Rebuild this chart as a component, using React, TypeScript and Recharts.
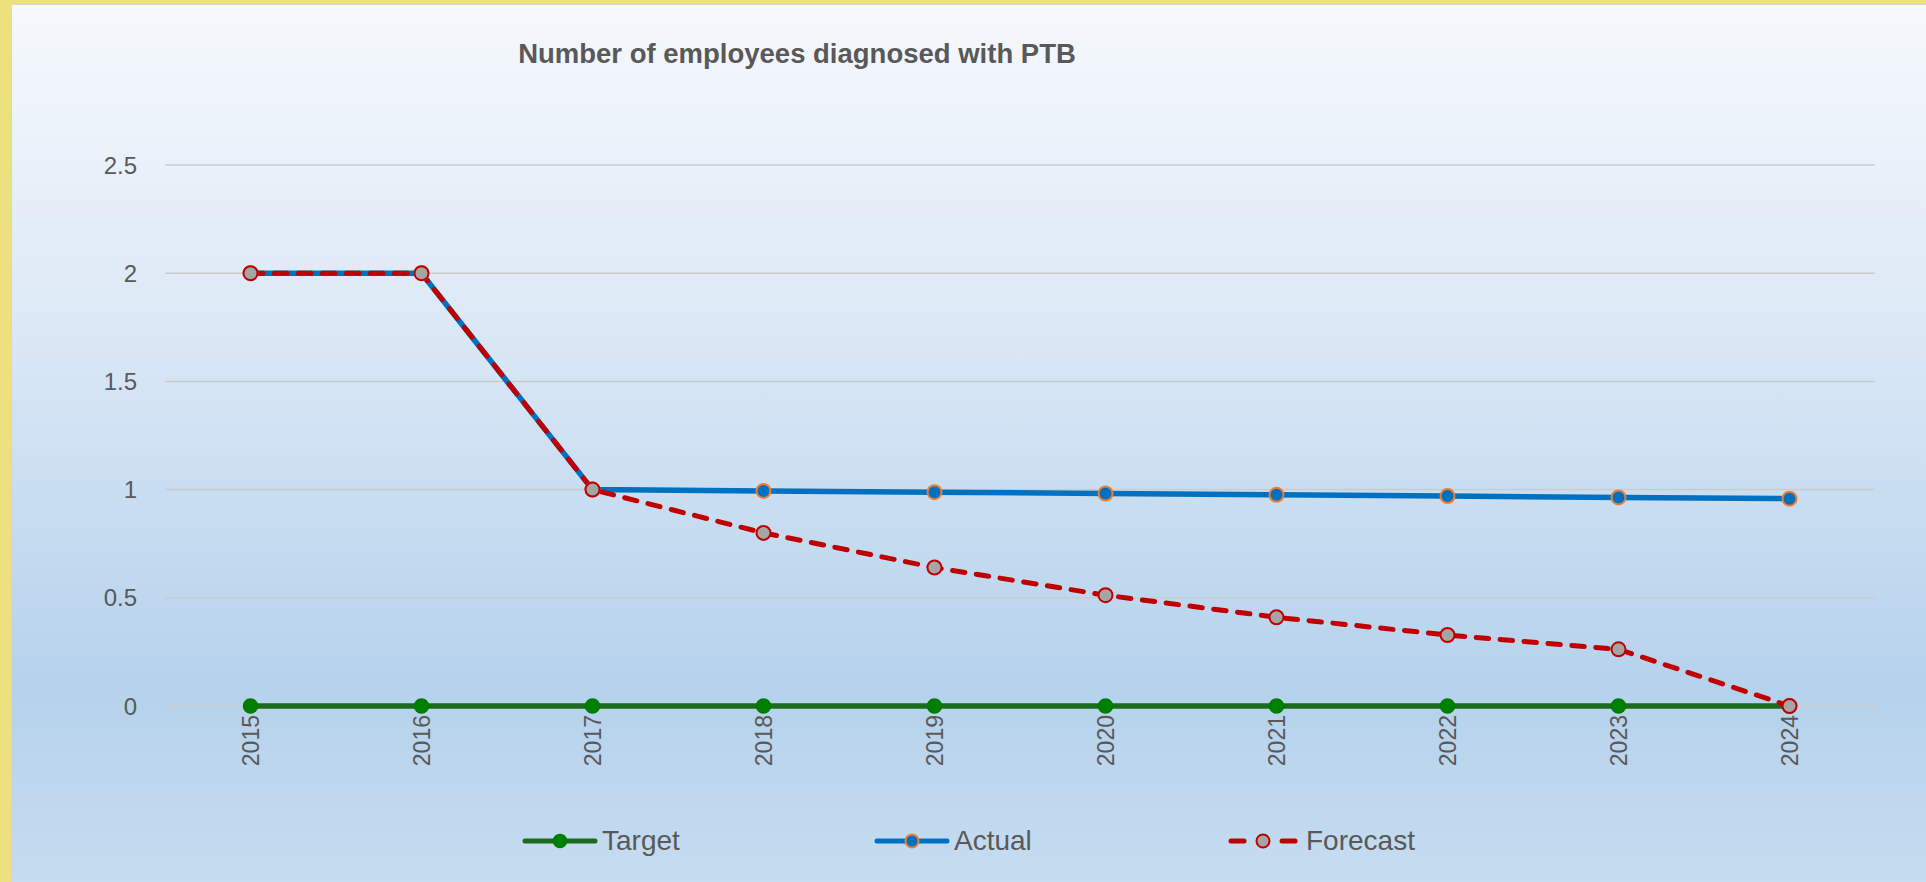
import { LineChart, Line, XAxis, YAxis, CartesianGrid } from "recharts";

const years = ["2015", "2016", "2017", "2018", "2019", "2020", "2021", "2022", "2023", "2024"];
const target = [0, 0, 0, 0, 0, 0, 0, 0, 0, 0];
const actual = [2, 2, 1, 0.994, 0.988, 0.982, 0.976, 0.97, 0.964, 0.958];
const forecast = [2, 2, 1, 0.8, 0.64, 0.512, 0.41, 0.328, 0.262, 0];
const yTicks = [0, 0.5, 1, 1.5, 2, 2.5];
const seriesNames = ["Target", "Actual", "Forecast"];

const data = years.map((y, i) => ({
  year: y,
  target: target[i],
  actual: actual[i],
  forecast: forecast[i],
}));

const FONT = "'Liberation Sans', Arial, sans-serif";
const GREY = "#595959";

function YearTick(props: any) {
  const { x, y, payload } = props;
  return (
    <text
      x={x}
      y={y}
      dy="0.35em"
      transform={`rotate(-90, ${x}, ${y})`}
      textAnchor="end"
      fill={GREY}
      fontSize={23}
      fontFamily={FONT}
    >
      {payload.value}
    </text>
  );
}

function LegendIcon({ kind }: { kind: number }) {
  if (kind === 0) {
    return (
      <svg width={76} height={24}>
        <line x1={3} y1={12} x2={73} y2={12} stroke="#1b6b1d" strokeWidth={5} strokeLinecap="round" />
        <circle cx={38} cy={12} r={6.5} fill="#008000" stroke="#007a00" strokeWidth={1.5} />
      </svg>
    );
  }
  if (kind === 1) {
    return (
      <svg width={76} height={24}>
        <line x1={3} y1={12} x2={73} y2={12} stroke="#0070c0" strokeWidth={5} strokeLinecap="round" />
        <circle cx={38} cy={12} r={6.5} fill="#0070c0" stroke="#ed7d31" strokeWidth={2} />
      </svg>
    );
  }
  return (
    <svg width={76} height={24}>
      <line x1={5} y1={12} x2={18} y2={12} stroke="#c00000" strokeWidth={5} strokeLinecap="round" />
      <line x1={56} y1={12} x2={69} y2={12} stroke="#c00000" strokeWidth={5} strokeLinecap="round" />
      <circle cx={37} cy={12} r={6.5} fill="#a5a5a5" stroke="#c00000" strokeWidth={2} />
    </svg>
  );
}

export default function App() {
  return (
    <div
      style={{
        position: "absolute",
        left: 0,
        top: 0,
        width: 1926,
        height: 882,
        background: "#ede07e",
        overflow: "hidden",
        fontFamily: FONT,
      }}
    >
      <div
        style={{
          position: "absolute",
          left: 11,
          top: 4,
          width: 1915,
          height: 878,
          boxSizing: "border-box",
          borderLeft: "1.5px solid #d6d6d6",
          borderTop: "1.5px solid #d6d6d6",
          background:
            "linear-gradient(to bottom, #f6f9fd 0%, #dde9f6 35%, #b5d2ec 78%, #c6dcf0 100%)",
        }}
      />
      <div
        style={{
          position: "absolute",
          left: 797,
          top: 54,
          transform: "translate(-50%, -50%)",
          whiteSpace: "nowrap",
          fontSize: 27.5,
          fontWeight: "bold",
          color: GREY,
        }}
      >
        Number of employees diagnosed with PTB
      </div>
      <div style={{ position: "absolute", left: 0, top: 0 }}>
        <LineChart
          width={1926}
          height={882}
          data={data}
          margin={{ top: 165, right: 51, bottom: 76, left: 0 }}
        >
          <CartesianGrid vertical={false} stroke="#cbcbcb" strokeWidth={1.5} />
          <XAxis
            dataKey="year"
            height={100}
            padding={{ left: 85.5, right: 85.5 }}
            tickLine={false}
            tickSize={0}
            tickMargin={9}
            axisLine={false}
            tick={<YearTick />}
            interval={0}
          />
          <YAxis
            width={165}
            domain={[0, 2.5]}
            ticks={yTicks}
            tickLine={false}
            axisLine={false}
            tickSize={0}
            tickMargin={28}
            tick={{ fill: GREY, fontSize: 24, fontFamily: FONT }}
          />
          <Line
            dataKey="target"
            name={seriesNames[0]}
            stroke="#1b6b1d"
            strokeWidth={5.5}
            dot={{ r: 7, fill: "#008000", stroke: "#007a00", strokeWidth: 1.5 }}
            isAnimationActive={false}
          />
          <Line
            dataKey="actual"
            name={seriesNames[1]}
            stroke="#0070c0"
            strokeWidth={5.5}
            dot={{ r: 7, fill: "#0070c0", stroke: "#ed7d31", strokeWidth: 2 }}
            isAnimationActive={false}
          />
          <Line
            dataKey="forecast"
            name={seriesNames[2]}
            stroke="#c00000"
            strokeWidth={5}
            strokeDasharray="12.5 11.5"
            strokeLinecap="round"
            dot={{ r: 7, fill: "#a5a5a5", stroke: "#c00000", strokeWidth: 2, strokeDasharray: "0" }}
            isAnimationActive={false}
          />
        </LineChart>
      </div>
      <div
        style={{
          position: "absolute",
          left: 522,
          top: 841,
          transform: "translateY(-50%)",
          display: "flex",
        }}
      >
        {seriesNames.map((n, i) => (
          <div key={n} style={{ width: 352, display: "flex", alignItems: "center" }}>
            <LegendIcon kind={i} />
            <span style={{ fontSize: 28, color: GREY, marginLeft: 4 }}>{n}</span>
          </div>
        ))}
      </div>
    </div>
  );
}
